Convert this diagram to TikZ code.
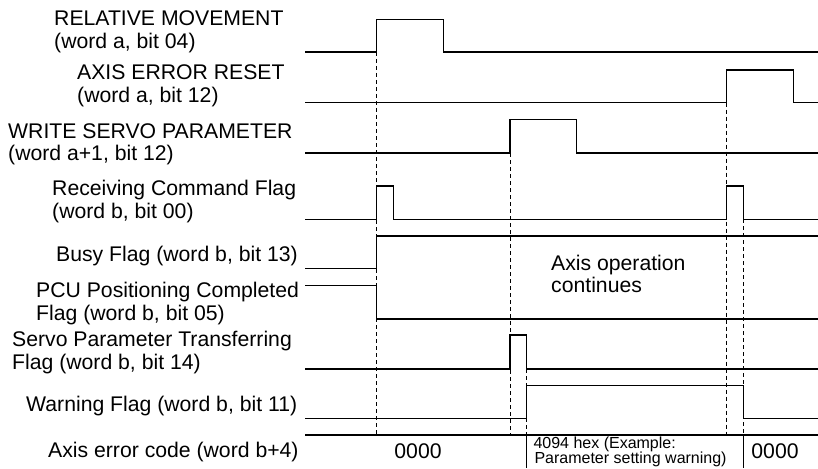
\documentclass[tikz,border=0pt]{standalone}
\usepackage{fontspec}
\setmainfont{Liberation Sans}
\begin{document}
\begin{tikzpicture}[x=1pt,y=-1pt,
  sig/.style={line width=1.2pt, line join=miter, line cap=butt},
  guide/.style={line width=1pt, dash pattern=on 4pt off 3pt},
  lbl/.style={anchor=base west, inner sep=0pt, font=\fontsize{21.2}{23}\selectfont},
  small/.style={anchor=base west, inner sep=0pt, font=\fontsize{16}{15}\selectfont},
  code/.style={anchor=base, inner sep=0pt, font=\fontsize{21.2}{23}\selectfont}]
\useasboundingbox (0,0) rectangle (818,468);

% guide (dashed) lines
\draw[guide] (376.7,52) -- (376.7,435);
\draw[guide] (510,153) -- (510,435);
\draw[guide] (526.7,369) -- (526.7,435);
\draw[guide] (726.7,102.7) -- (726.7,435);
\draw[guide] (743.3,219.3) -- (743.3,435);

% signals
\draw[sig] (305,52) -- (376.7,52) -- (376.7,19.5) -- (443.3,19.5) -- (443.3,52) -- (818,52);
\draw[sig] (305,102.7) -- (726.7,102.7) -- (726.7,70) -- (793.3,70) -- (793.3,102.7) -- (818,102.7);
\draw[sig] (305,153) -- (510,153) -- (510,119.5) -- (576.7,119.5) -- (576.7,153) -- (818,153);
\draw[sig] (305,219.3) -- (376.7,219.3) -- (376.7,186) -- (393.3,186) -- (393.3,219.3) -- (726.7,219.3) -- (726.7,186) -- (743.3,186) -- (743.3,219.3) -- (818,219.3);
\draw[sig] (305,268.3) -- (376.7,268.3) -- (376.7,236) -- (818,236);
\draw[sig] (305,285.7) -- (376.7,285.7) -- (376.7,319) -- (818,319);
\draw[sig] (305,369) -- (510,369) -- (510,335) -- (526.7,335) -- (526.7,369) -- (818,369);
\draw[sig] (305,418.3) -- (526.7,418.3) -- (526.7,385.7) -- (743.3,385.7) -- (743.3,418.3) -- (818,418.3);
\draw[sig] (305,435) -- (818,435);
\draw[sig] (526.7,435) -- (526.7,468);
\draw[sig] (743.3,435) -- (743.3,468);

% labels
\node[lbl] (rm1) at (54,25.3) {RELATIVE MOVEMENT};
\node[lbl] (rm2) at (54,48.3) {(word a, bit 04)};
\node[lbl] (ae1) at (77,79.3) {AXIS ERROR RESET};
\node[lbl] (ae2) at (77,102.3) {(word a, bit 12)};
\node[lbl] (ws1) at (8,138.3) {WRITE SERVO PARAMETER};
\node[lbl] (ws2) at (8,160.5) {(word a+1, bit 12)};
\node[lbl] (rc1) at (52,195.7) {Receiving Command Flag};
\node[lbl] (rc2) at (52,218) {(word b, bit 00)};
\node[lbl] (bf) at (56,261.7) {Busy Flag (word b, bit 13)};
\node[lbl] (pc1) at (36,297.7) {PCU Positioning Completed};
\node[lbl] (pc2) at (36,320.5) {Flag (word b, bit 05)};
\node[lbl] (sp1) at (12,346) {Servo Parameter Transferring};
\node[lbl] (sp2) at (12,369) {Flag (word b, bit 14)};
\node[lbl] (wf) at (26,411.3) {Warning Flag (word b, bit 11)};
\node[lbl] (ec) at (48,457.5) {Axis error code (word b+4)};

\node[lbl] (ao1) at (551,270.7) {Axis operation};
\node[lbl] (ao2) at (551,292.7) {continues};

\node[code] (c1) at (418,458.3) {0000};
\node[code] (c2) at (775,458.3) {0000};
\node[small] (h1) at (533.3,448.3) {4094 hex (Example:};
\node[small] (h2) at (534.3,463.3) {Parameter setting warning)};
\end{tikzpicture}
\end{document}
